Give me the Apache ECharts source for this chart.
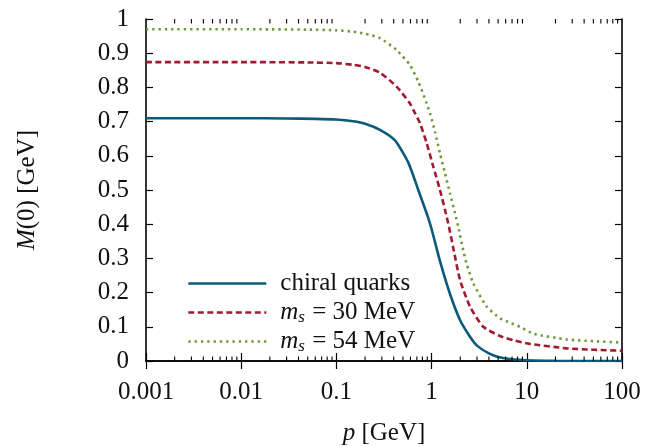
<!DOCTYPE html>
<html>
<head>
<meta charset="utf-8">
<script src="https://cdn.jsdelivr.net/npm/echarts@6/dist/echarts.min.js"></script>
<style>html,body{margin:0;padding:0;background:#fff}#c{width:648px;height:447px}</style>
</head>
<body>
<div id="c"></div>
<script>
// ---- data ----
const seriesNames = ['chiral quarks', 'm_s = 30 MeV', 'm_s = 54 MeV'];
const xTickLabels = ['0.001', '0.01', '0.1', '1', '10', '100'];
const yTickLabels = ['0', '0.1', '0.2', '0.3', '0.4', '0.5', '0.6', '0.7', '0.8', '0.9', '1'];

const chiralP = [0.001, 0.01, 0.03, 0.06, 0.1, 0.15, 0.2, 0.287, 0.4125, 0.569, 0.725, 0.923, 1.017, 1.225, 1.561, 1.988, 2.532, 3.0, 4.0, 5.0, 7.0, 10, 20, 100];
const chiralM = [0.710, 0.710, 0.709, 0.708, 0.706, 0.701, 0.694, 0.676, 0.645, 0.580, 0.500, 0.418, 0.378, 0.292, 0.196, 0.120, 0.071, 0.045, 0.022, 0.012, 0.005, 0.002, 0.0005, 0];

const ms30P = [0.001, 0.01, 0.05, 0.1, 0.15, 0.2, 0.287, 0.43, 0.593, 0.642, 0.756, 0.888, 1.042, 1.225, 1.383, 1.523, 1.69, 1.988, 2.532, 3.49, 5.23, 7.21, 10.8, 26.2, 50, 100];
const ms30M = [0.874, 0.874, 0.873, 0.871, 0.866, 0.860, 0.843, 0.802, 0.753, 0.734, 0.695, 0.637, 0.568, 0.500, 0.442, 0.392, 0.330, 0.237, 0.159, 0.100, 0.073, 0.061, 0.050, 0.037, 0.033, 0.030];

const ms54P = [0.001, 0.01, 0.05, 0.1, 0.15, 0.2, 0.287, 0.43, 0.593, 0.725, 0.888, 0.962, 1.086, 1.225, 1.383, 1.561, 1.762, 1.908, 2.153, 2.34, 2.742, 3.79, 5.23, 6.66, 8.49, 11.7, 26.2, 50, 100];
const ms54M = [0.970, 0.970, 0.969, 0.967, 0.963, 0.957, 0.944, 0.909, 0.865, 0.817, 0.753, 0.724, 0.670, 0.607, 0.549, 0.490, 0.432, 0.392, 0.322, 0.283, 0.227, 0.159, 0.125, 0.112, 0.100, 0.080, 0.063, 0.058, 0.054];

// minor tick positions of the log axis (2..9 in each decade)
const decades = [0.001, 0.01, 0.1, 1, 10];
const minorMultipliers = [2, 3, 4, 5, 6, 7, 8, 9];
const minorTicks = [];
decades.forEach(d => minorMultipliers.forEach(m => minorTicks.push(+(d * m).toPrecision(3))));

// ---- styling ----
const FONT = 'Liberation Serif';
const INK = '#111';
const colors = ['#0b5a7c', '#a11b2e', '#6f9a3b'];
const pair = (xs, ys) => xs.map((x, i) => [x, ys[i]]);

const chart = echarts.init(document.getElementById('c'), null, {renderer: 'canvas'});

const axisLine = {show: true, lineStyle: {color: '#000', width: 1.6}};
const xLabelFmt = v => xTickLabels[Math.round(Math.log10(v)) + 3];

const option = {
  animation: false,
  backgroundColor: '#fff',
  grid: {left: 146, right: 26, top: 19, bottom: 86, containLabel: false, outerBoundsMode: 'none'},
  legend: {
    orient: 'vertical',
    left: 182,
    top: 264,
    itemWidth: 78,
    itemHeight: 1,
    itemGap: 0,
    data: seriesNames,
    selectedMode: false,
    itemStyle: {opacity: 0},
    lineStyle: {width: 2.6},
    formatter: function (name) {
      if (name.indexOf('m_s') === 0) {
        return '{it|m}{sub|s} = ' + name.split('= ')[1];
      }
      return name;
    },
    textStyle: {
      fontFamily: FONT, fontSize: 25, color: INK, lineHeight: 29,
      padding: [0, 0, 0, 9],
      rich: {
        it: {fontFamily: FONT, fontSize: 25, fontStyle: 'italic', color: INK},
        sub: {fontFamily: FONT, fontSize: 17, fontStyle: 'italic', color: INK, padding: [10, 1, 0, 0]}
      }
    }
  },
  xAxis: [{
    type: 'log', logBase: 10, min: 0.001, max: 100,
    position: 'bottom',
    axisLine: axisLine,
    axisTick: {show: true, inside: true, length: 8, lineStyle: {color: '#000', width: 1.2}},
    minorTick: {show: false},
    splitLine: {show: false},
    axisLabel: {fontFamily: FONT, fontSize: 25, color: INK, margin: 19, formatter: xLabelFmt, showMinLabel: true, showMaxLabel: true},
    name: '{it|p} [GeV]',
    nameLocation: 'middle',
    nameGap: 60,
    nameTextStyle: {fontFamily: FONT, fontSize: 25, color: INK,
      rich: {it: {fontFamily: FONT, fontSize: 25, fontStyle: 'italic', color: INK}}}
  }, {
    type: 'log', logBase: 10, min: 0.001, max: 100,
    position: 'top',
    axisLine: axisLine,
    axisTick: {show: true, inside: true, length: 8, lineStyle: {color: '#000', width: 1.2}},
    axisLabel: {show: false},
    splitLine: {show: false}
  }],
  yAxis: [{
    type: 'value', min: 0, max: 1, interval: 0.1,
    position: 'left',
    axisLine: axisLine,
    axisTick: {show: true, inside: true, length: 7, lineStyle: {color: '#000', width: 1.2}},
    splitLine: {show: false},
    axisLabel: {fontFamily: FONT, fontSize: 25, color: INK, margin: 17,
      formatter: v => yTickLabels[Math.round(v * 10)]},
    name: '{it|M}(0) [GeV]',
    nameLocation: 'middle',
    nameGap: 106,
    nameRotate: 90,
    nameTextStyle: {fontFamily: FONT, fontSize: 25, color: INK,
      rich: {it: {fontFamily: FONT, fontSize: 25, fontStyle: 'italic', color: INK}}}
  }, {
    type: 'value', min: 0, max: 1, interval: 0.1,
    position: 'right',
    axisLine: axisLine,
    axisTick: {show: true, inside: true, length: 7, lineStyle: {color: '#000', width: 1.2}},
    axisLabel: {show: false},
    splitLine: {show: false}
  }],
  series: [
    {
      name: seriesNames[0], type: 'line', xAxisIndex: 0, yAxisIndex: 0,
      data: pair(chiralP, chiralM), symbol: 'none', smooth: 0.2,
      lineStyle: {color: colors[0], width: 2.6, type: 'solid'},
      itemStyle: {color: colors[0]}, z: 5
    },
    {
      name: seriesNames[1], type: 'line', xAxisIndex: 0, yAxisIndex: 0,
      data: pair(ms30P, ms30M), symbol: 'none', smooth: 0.2,
      lineStyle: {color: colors[1], width: 2.6, type: [6, 3.5]},
      itemStyle: {color: colors[1]}, z: 4
    },
    {
      name: seriesNames[2], type: 'line', xAxisIndex: 0, yAxisIndex: 0,
      data: pair(ms54P, ms54M), symbol: 'none', smooth: 0.2,
      lineStyle: {color: colors[2], width: 2.6, type: [2.4, 3.9]},
      itemStyle: {color: colors[2]}, z: 3
    },
    {
      name: 'minorTicks', type: 'custom', xAxisIndex: 0, yAxisIndex: 0,
      silent: true, z: 10,
      data: minorTicks.map(v => [v, 0]),
      encode: {x: 0, y: 1},
      renderItem: function (params, api) {
        const v = api.value(0);
        const b = api.coord([v, 0]);
        const t = api.coord([v, 1]);
        const st = {stroke: '#000', lineWidth: 1.1};
        return {type: 'group', children: [
          {type: 'line', shape: {x1: b[0], y1: b[1], x2: b[0], y2: b[1] - 4.5}, style: st},
          {type: 'line', shape: {x1: t[0], y1: t[1], x2: t[0], y2: t[1] + 4.5}, style: st}
        ]};
      }
    }
  ]
};
chart.setOption(option);
</script>
</body>
</html>
